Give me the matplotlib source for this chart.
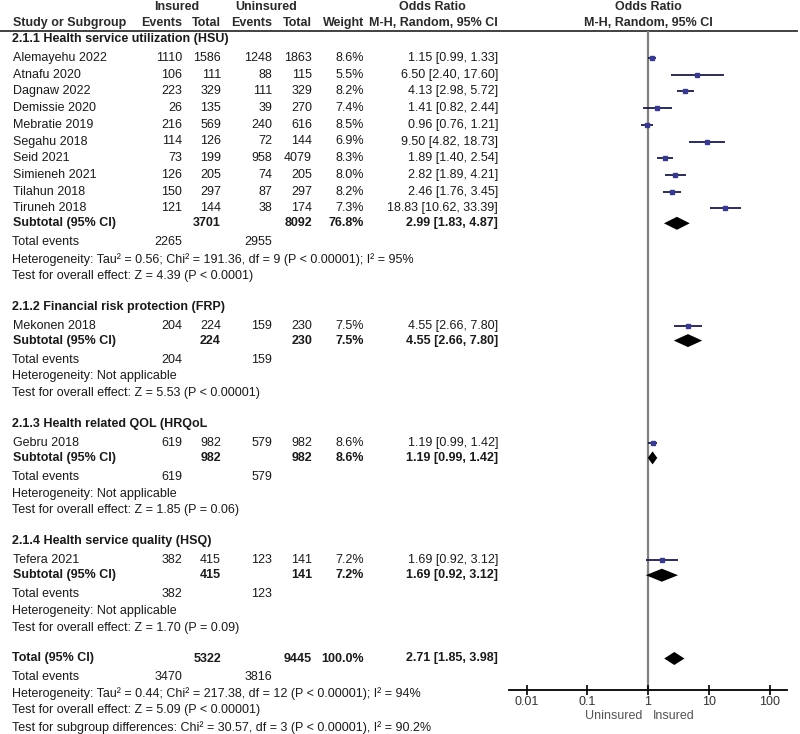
import numpy as np
import matplotlib.pyplot as plt

plt.rcParams['font.family'] = ['Liberation Sans', 'DejaVu Sans']

# ---- data ----
group_titles = ["2.1.1 Health service utilization (HSU)",
                "2.1.2 Financial risk protection (FRP)",
                "2.1.3 Health related QOL (HRQoL",
                "2.1.4 Health service quality (HSQ)"]

study_names = ["Alemayehu 2022", "Atnafu 2020", "Dagnaw 2022", "Demissie 2020",
               "Mebratie 2019", "Segahu 2018", "Seid 2021", "Simieneh 2021",
               "Tilahun 2018", "Tiruneh 2018",
               "Mekonen 2018", "Gebru 2018", "Tefera 2021"]
study_group = [0, 0, 0, 0, 0, 0, 0, 0, 0, 0, 1, 2, 3]
ins_events = [1110, 106, 223, 26, 216, 114, 73, 126, 150, 121, 204, 619, 382]
ins_total = [1586, 111, 329, 135, 569, 126, 199, 205, 297, 144, 224, 982, 415]
unins_events = [1248, 88, 111, 39, 240, 72, 958, 74, 87, 38, 159, 579, 123]
unins_total = [1863, 115, 329, 270, 616, 144, 4079, 205, 297, 174, 230, 982, 141]
weights = [8.6, 5.5, 8.2, 7.4, 8.5, 6.9, 8.3, 8.0, 8.2, 7.3, 7.5, 8.6, 7.2]
odds = [1.15, 6.50, 4.13, 1.41, 0.96, 9.50, 1.89, 2.82, 2.46, 18.83, 4.55, 1.19, 1.69]
ci_low = [0.99, 2.40, 2.98, 0.82, 0.76, 4.82, 1.40, 1.89, 1.76, 10.62, 2.66, 0.99, 0.92]
ci_high = [1.33, 17.60, 5.72, 2.44, 1.21, 18.73, 2.54, 4.21, 3.45, 33.39, 7.80, 1.42, 3.12]

sub_ins_total = [3701, 224, 982, 415]
sub_unins_total = [8092, 230, 982, 141]
sub_weight = [76.8, 7.5, 8.6, 7.2]
sub_odds = [2.99, 4.55, 1.19, 1.69]
sub_low = [1.83, 2.66, 0.99, 0.92]
sub_high = [4.87, 7.80, 1.42, 3.12]
sub_ins_events = [2265, 204, 619, 382]
sub_unins_events = [2955, 159, 579, 123]
sub_het = ["Heterogeneity: Tau\u00b2 = 0.56; Chi\u00b2 = 191.36, df = 9 (P < 0.00001); I\u00b2 = 95%",
           "Heterogeneity: Not applicable",
           "Heterogeneity: Not applicable",
           "Heterogeneity: Not applicable"]
sub_test = ["Test for overall effect: Z = 4.39 (P < 0.0001)",
            "Test for overall effect: Z = 5.53 (P < 0.00001)",
            "Test for overall effect: Z = 1.85 (P = 0.06)",
            "Test for overall effect: Z = 1.70 (P = 0.09)"]

tot_ins_total, tot_unins_total, tot_weight = 5322, 9445, 100.0
tot_odds, tot_low, tot_high = 2.71, 1.85, 3.98
tot_ins_events, tot_unins_events = 3470, 3816
tot_het = "Heterogeneity: Tau\u00b2 = 0.44; Chi\u00b2 = 217.38, df = 12 (P < 0.00001); I\u00b2 = 94%"
tot_test = "Test for overall effect: Z = 5.09 (P < 0.00001)"
sub_diff = "Test for subgroup differences: Chi\u00b2 = 30.57, df = 3 (P < 0.00001), I\u00b2 = 90.2%"

tick_vals = [0.01, 0.1, 1, 10, 100]
tick_labels = ["0.01", "0.1", "1", "10", "100"]

# ---- layout (pixels) ----
W, H = 800, 734
fig = plt.figure(figsize=(W / 100, H / 100), dpi=100)
tab = fig.add_axes([0, 0, 1, 1])
tab.set_xlim(0, W)
tab.set_ylim(H, 0)
tab.axis('off')

# forest panel: 1 -> x=648, one decade = 60.75 px, panel from 509 to 787
x_one, dec = 648, 60.75
px0, px1 = 509, 787
fp = fig.add_axes([px0 / W, 0, (px1 - px0) / W, 1])
fp.set_xscale('log')
fp.set_xlim(10 ** ((px0 - x_one) / dec), 10 ** ((px1 - x_one) / dec))
fp.set_ylim(H, 0)
fp.patch.set_alpha(0)
for s in ['top', 'right', 'left']:
    fp.spines[s].set_visible(False)
axis_y = 690
fp.spines['bottom'].set_position(('data', axis_y))
fp.spines['bottom'].set_linewidth(1.3)
fp.set_yticks([])
fp.set_xticks(tick_vals)
fp.set_xticklabels(tick_labels)
fp.xaxis.set_minor_locator(plt.NullLocator())
fp.tick_params(axis='x', direction='inout', length=7, width=1.2, labelsize=9,
               pad=1, labelcolor='#333333')

FS = 9
txt = '#1a1a1a'
c_name, c_ie, c_it, c_ue, c_ut, c_w, c_ci = 12, 182, 221, 272, 312, 364, 498


def row_text(y, cells, bold=False):
    fw = 'bold' if bold else 'normal'
    for x, s, ha in cells:
        tab.text(x, y, s, ha=ha, va='center', fontsize=FS, color=txt, fontweight=fw)


def ci_str(e, lo, hi):
    return f"{e:.2f} [{lo:.2f}, {hi:.2f}]"


def diamond(y, e, lo, hi, h=6.5):
    fp.fill([lo, e, hi, e], [y, y - h, y, y + h], color='black', lw=0)


# header
hc = '#2a2a2a'
for x, s in [(177, "Insured"), (266, "Uninsured"), (432, "Odds Ratio"), (648, "Odds Ratio")]:
    tab.text(x, 7, s, ha='center', va='center', fontsize=FS, fontweight='bold', color=hc)
for x, s, ha in [(13, "Study or Subgroup", 'left'), (c_ie, "Events", 'right'),
                 (c_it, "Total", 'right'), (c_ue, "Events", 'right'),
                 (c_ut, "Total", 'right'), (c_w, "Weight", 'right'),
                 (c_ci, "M-H, Random, 95% CI", 'right'), (648, "M-H, Random, 95% CI", 'center')]:
    tab.text(x, 23, s, ha=ha, va='center', fontsize=FS, fontweight='bold', color=hc)
top_line = 31
tab.plot([0, 797], [top_line, top_line], color='#333333', lw=1.3)
fp.vlines(1, top_line, axis_y, color='#808080', lw=1.6, zorder=1)

y = 39
for g, title in enumerate(group_titles):
    row_text(y, [(c_name, title, 'left')], bold=True)
    y += 19
    idx = [i for i, sg in enumerate(study_group) if sg == g]
    for k, i in enumerate(idx):
        if k > 0:
            y += 16.7
        row_text(y, [(c_name + 1, study_names[i], 'left'),
                     (c_ie, str(ins_events[i]), 'right'),
                     (c_it, str(ins_total[i]), 'right'),
                     (c_ue, str(unins_events[i]), 'right'),
                     (c_ut, str(unins_total[i]), 'right'),
                     (c_w, f"{weights[i]:.1f}%", 'right'),
                     (c_ci, ci_str(odds[i], ci_low[i], ci_high[i]), 'right')])
        fp.hlines(y, ci_low[i], ci_high[i], color='#1c1c40', lw=1.3, zorder=3)
        fp.plot(odds[i], y, 's', color='#3a3a8a', ms=1.0 + weights[i] * 0.22, zorder=4)
    y += 15
    row_text(y, [(c_name + 1, "Subtotal (95% CI)", 'left'),
                 (c_it, str(sub_ins_total[g]), 'right'),
                 (c_ut, str(sub_unins_total[g]), 'right'),
                 (c_w, f"{sub_weight[g]:.1f}%", 'right'),
                 (c_ci, ci_str(sub_odds[g], sub_low[g], sub_high[g]), 'right')], bold=True)
    diamond(y, sub_odds[g], sub_low[g], sub_high[g])
    y += 19
    row_text(y, [(c_name, "Total events", 'left'),
                 (c_ie, str(sub_ins_events[g]), 'right'),
                 (c_ue, str(sub_unins_events[g]), 'right')])
    y += 16.8
    row_text(y, [(c_name, sub_het[g], 'left')])
    y += 16.5
    row_text(y, [(c_name, sub_test[g], 'left')])
    y += 31

row_text(y, [(c_name, "Total (95% CI)", 'left'),
             (c_it, str(tot_ins_total), 'right'),
             (c_ut, str(tot_unins_total), 'right'),
             (c_w, f"{tot_weight:.1f}%", 'right'),
             (c_ci, ci_str(tot_odds, tot_low, tot_high), 'right')], bold=True)
diamond(y, tot_odds, tot_low, tot_high)
y += 19
row_text(y, [(c_name, "Total events", 'left'),
             (c_ie, str(tot_ins_events), 'right'),
             (c_ue, str(tot_unins_events), 'right')])
y += 16.3
row_text(y, [(c_name, tot_het, 'left')])
y += 16.3
row_text(y, [(c_name, tot_test, 'left')])
y += 17.5
row_text(y, [(c_name, sub_diff, 'left')])

tab.text(642, 716, "Uninsured", ha='right', va='center', fontsize=FS, color='#555555')
tab.text(653, 716, "Insured", ha='left', va='center', fontsize=FS, color='#555555')

fig.savefig('out.png', dpi=100)
